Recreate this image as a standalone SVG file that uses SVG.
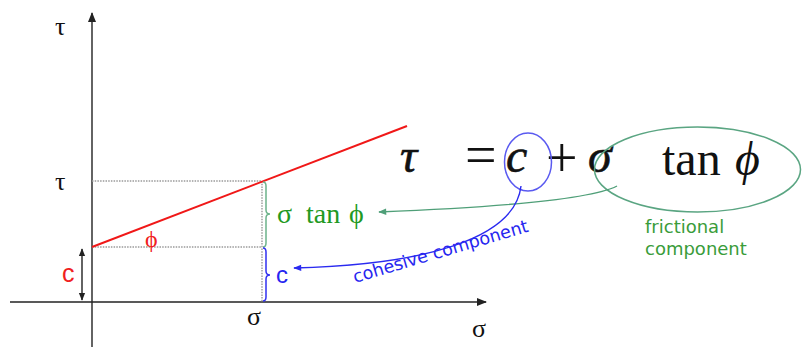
<svg xmlns="http://www.w3.org/2000/svg" width="803" height="349" viewBox="0 0 803 349">
<style>
.axis{stroke:#222;stroke-width:1.4;fill:none}
.dot{stroke:#9a9a9a;stroke-width:1.4;stroke-dasharray:1.5 1.2;fill:none}
.lbl{font-family:"Liberation Serif",serif;font-size:26px;fill:#111}
.eq{font-family:"Liberation Serif",serif;font-size:48px;fill:#111}
.it{font-style:italic}
.hv{stroke:#111;stroke-width:0.6}
.op{font-size:56px}
.grn{fill:#229922;font-size:28px}
.blu{fill:#2626f0}
.sans{font-family:"DejaVu Sans",sans-serif}
</style>
<defs>
<marker id="ah" viewBox="0 0 10 10" refX="9" refY="5" markerWidth="10" markerHeight="10" markerUnits="userSpaceOnUse" orient="auto">
<path d="M0,1 L10,5 L0,9 Z" fill="#222"/>
</marker>
<marker id="ahs" viewBox="0 0 10 10" refX="9" refY="5" markerWidth="8" markerHeight="8" markerUnits="userSpaceOnUse" orient="auto-start-reverse">
<path d="M0,1 L10,5 L0,9 Z" fill="#222"/>
</marker>
<marker id="ahg" viewBox="0 0 10 10" refX="9" refY="5" markerWidth="10" markerHeight="8" markerUnits="userSpaceOnUse" orient="auto">
<path d="M0,1 L10,5 L0,9 Z" fill="#4f9f78"/>
</marker>
<marker id="ahb" viewBox="0 0 10 10" refX="9" refY="5" markerWidth="10" markerHeight="8" markerUnits="userSpaceOnUse" orient="auto">
<path d="M0,1 L10,5 L0,9 Z" fill="#2a2af0"/>
</marker>
</defs>

<g id="axes">
<line class="axis" x1="92" y1="347" x2="92" y2="13" marker-end="url(#ah)"/>
<line class="axis" x1="10" y1="302" x2="486" y2="302" marker-end="url(#ah)"/>
<text class="lbl" x="55" y="35">τ</text>
<text class="lbl" x="472" y="337">σ</text>
</g>

<g id="guides">
<line class="dot" x1="92" y1="181" x2="262" y2="181"/>
<line class="dot" x1="92" y1="247" x2="262" y2="247"/>
<line class="dot" x1="262" y1="181" x2="262" y2="302"/>
<text class="lbl" x="55" y="190">τ</text>
<text class="lbl" x="247" y="325">σ</text>
</g>

<g id="envelope">
<line x1="92" y1="247" x2="407" y2="126" stroke="#f01818" stroke-width="2"/>
<text x="145" y="247" font-family="Liberation Serif,serif" font-size="24" fill="#f02020">ϕ</text>
</g>

<g id="cohesion-dim">
<line class="axis" x1="82" y1="249" x2="82" y2="300" marker-start="url(#ahs)" marker-end="url(#ahs)"/>
<text x="62" y="282" font-family="Liberation Sans,sans-serif" font-size="25" fill="#f02020">c</text>
</g>

<g id="brace-friction">
<path d="M263,182 Q266,182 266,186 L266,210 Q266,214 270,214 Q266,214 266,218 L266,243 Q266,247 263,247" fill="none" stroke="#6cb38a" stroke-width="1.5"/>
<text class="lbl grn" x="277" y="223">σ</text>
<text class="lbl grn" x="306" y="223">tan</text>
<text class="lbl grn" x="349" y="223">ϕ</text>
</g>

<g id="brace-cohesion">
<path d="M263,248 Q266,248 266,252 L266,271 Q266,275 270,275 Q266,275 266,279 L266,297 Q266,301 263,301" fill="none" stroke="#3030f0" stroke-width="1.5"/>
<text x="276" y="283" font-family="Liberation Sans,sans-serif" font-size="24" fill="#2626f0">c</text>
</g>

<g id="equation">
<text class="eq it hv" x="400" y="172">τ</text>
<text class="eq op" x="465" y="174">=</text>
<text class="eq it hv" x="506" y="172">c</text>
<text class="eq op" x="546" y="177">+</text>
<text class="eq it hv" x="588" y="172">σ</text>
<text class="eq" x="662" y="175">tan</text>
<text class="eq it" x="735" y="175">ϕ</text>
</g>

<g id="cohesive-label">
<ellipse cx="528" cy="162" rx="23.5" ry="29" fill="none" stroke="#5a5af0" stroke-width="1.5"/>
<text class="sans blu" x="355" y="283" font-size="17.5" transform="rotate(-16.5 355 283)">cohesive component</text>
</g>

<g id="frictional-label">
<ellipse cx="697.5" cy="169.5" rx="103" ry="42.5" fill="none" stroke="#5aa582" stroke-width="1.5"/>
<text class="sans" x="645" y="233" font-size="18" fill="#3a9c3a">frictional</text>
<text class="sans" x="645" y="255" font-size="18" fill="#3a9c3a">component</text>
</g>

<g id="connectors">
<path d="M617,186 C590,200 480,208 379,212" fill="none" stroke="#4f9f78" stroke-width="1.4" marker-end="url(#ahg)"/>
<path d="M521,186 C515,240 420,265 294,268" fill="none" stroke="#2a2af0" stroke-width="1.4" marker-end="url(#ahb)"/>
</g>
</svg>
